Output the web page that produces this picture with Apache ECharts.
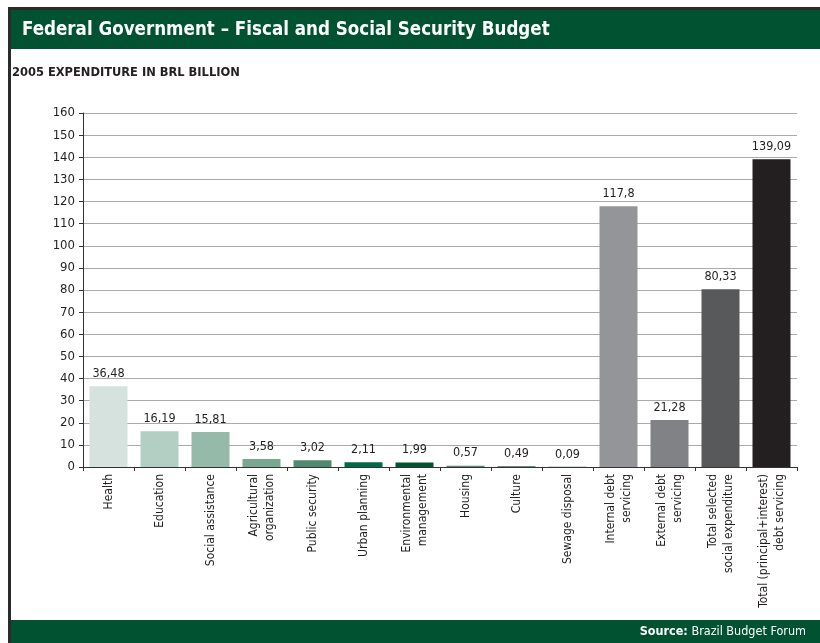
<!DOCTYPE html>
<html>
<head>
<meta charset="utf-8">
<script src="https://cdn.jsdelivr.net/npm/echarts@6/dist/echarts.min.js"></script>
<style>
  html, body { margin: 0; padding: 0; background: #fff; }
  #chart { width: 820px; height: 643px; }
</style>
</head>
<body>
<div id="chart"></div>
<script>
// Dados - despesas 2005 (R$ bilhões)
var categories = [
    'Health', 'Education', 'Social assistance', 'Agricultural\norganization',
    'Public security', 'Urban planning', 'Environmental\nmanagement', 'Housing',
    'Culture', 'Sewage disposal', 'Internal debt\nservicing', 'External debt\nservicing',
    'Total selected\nsocial expenditure', 'Total (principal+interest)\ndebt servicing'
];
var values = [36.48, 16.19, 15.81, 3.58, 3.02, 2.11, 1.99, 0.57, 0.49, 0.09, 117.8, 21.28, 80.33, 139.09];
var barColors = [
    '#d5e2dd', '#b3cfc4', '#96baa9', '#78a88f', '#4e8a70', '#006a44', '#005530',
    '#5f8474', '#6f8a7f', '#4f6a5e', '#939598', '#808285', '#58595b', '#231f20'
];
var yTicks = { min: 0, max: 160, interval: 10 };

var FONT = '"Liberation Sans Narrow", "DejaVu Sans Condensed", "Liberation Sans", sans-serif';
var GREEN = '#005230';

var chart = echarts.init(document.getElementById('chart'));

var option = {
    backgroundColor: '#fff',
    animation: false,
    graphic: [
        // moldura
        { type: 'rect', shape: { x: 8, y: 7, width: 812, height: 3 }, style: { fill: '#2b2b2b' } },
        { type: 'rect', shape: { x: 8, y: 7, width: 3, height: 636 }, style: { fill: '#2b2b2b' } },
        // cabeçalho
        { type: 'rect', shape: { x: 11, y: 10, width: 809, height: 39 }, style: { fill: GREEN } },
        { type: 'text', x: 22, y: 20, scaleX: 0.93, style: {
            text: 'Federal Government \u2013 Fiscal and Social Security Budget',
            fill: '#fff', font: 'bold 20px ' + FONT } },
        { type: 'text', x: 12, y: 66, scaleX: 0.98, style: {
            text: '2005 EXPENDITURE IN BRL BILLION',
            fill: '#231f20', font: 'bold 13px ' + FONT } },
        // rodapé
        { type: 'rect', shape: { x: 11, y: 620, width: 809, height: 23 }, style: { fill: GREEN } },
        { type: 'text', right: 14, top: 625, style: {
            text: '{b|Source:} Brazil Budget Forum',
            fill: '#fff', font: '12.5px ' + FONT,
            rich: { b: { fill: '#fff', font: 'bold 12.5px ' + FONT } } } }
    ],
    grid: { left: 83, right: 23, top: 113, bottom: 176 },
    xAxis: {
        type: 'category',
        data: categories,
        axisLine: { lineStyle: { color: '#333', width: 1 } },
        axisTick: { show: true, interval: 0, length: 4, lineStyle: { color: '#333' } },
        axisLabel: {
            interval: 0, rotate: 90, margin: 7,
            color: '#231f20', fontFamily: FONT, fontSize: 12, lineHeight: 16
        }
    },
    yAxis: {
        type: 'value',
        min: yTicks.min, max: yTicks.max, interval: yTicks.interval,
        axisLine: { show: true, lineStyle: { color: '#333' } },
        axisTick: { show: true, length: 4, lineStyle: { color: '#333' } },
        axisLabel: { color: '#231f20', fontFamily: FONT, fontSize: 13, margin: 8 },
        splitLine: { lineStyle: { color: '#aaa', width: 1 } }
    },
    series: [{
        type: 'bar',
        barWidth: 38,
        data: values.map(function (v, i) {
            return { value: v, itemStyle: { color: barColors[i] } };
        }),
        label: {
            show: true, position: 'top', distance: 6,
            color: '#231f20', fontFamily: FONT, fontSize: 12.5,
            formatter: function (p) { return String(p.value).replace('.', ','); }
        }
    }]
};

chart.setOption(option);
</script>
</body>
</html>
